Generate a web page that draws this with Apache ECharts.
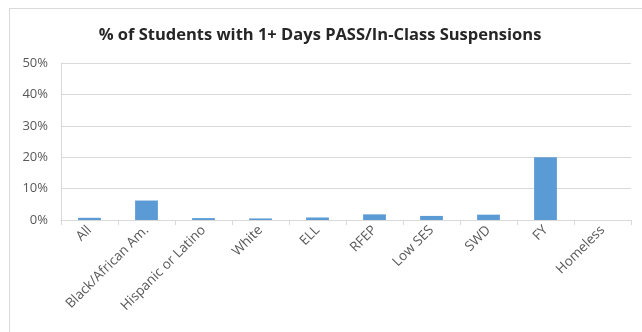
<!DOCTYPE html>
<html><head><meta charset="utf-8">
<script src="https://cdn.jsdelivr.net/npm/echarts@6/dist/echarts.min.js"></script>
<style>html,body{margin:0;padding:0;background:#fff}#c{width:642px;height:332px}
#frame{position:absolute;left:9px;top:8px;width:700px;height:400px;border:1px solid #d9d9d9;box-sizing:border-box;pointer-events:none}</style>
</head><body><div id="c"></div><div id="frame"></div>
<script>
const categories = ["All","Black/African Am.","Hispanic or Latino","White","ELL","RFEP","Low SES","SWD","FY","Homeless"];
const values = [0.7, 6.2, 0.6, 0.5, 0.8, 1.8, 1.3, 1.7, 20, 0];
const yTicks = [0, 10, 20, 30, 40, 50];
const chart = echarts.init(document.getElementById('c'));
chart.setOption({
  animation:false,
  title:{text:'% of Students with 1+ Days PASS/In-Class Suspensions',left:315,top:22,textAlign:'center',
    textStyle:{fontFamily:'Open Sans',fontSize:16.5,fontWeight:'bold',color:'#262626'}},
  grid:{left:61,right:11,top:63,bottom:112},
  xAxis:{type:'category',data:categories,
    axisLine:{lineStyle:{color:'#d9d9d9'}},
    axisTick:{show:true,alignWithLabel:false,lineStyle:{color:'#d9d9d9'},length:5},
    axisLabel:{rotate:45,interval:0,fontFamily:'Open Sans',fontSize:13.5,color:'#595959',margin:8}},
  yAxis:{type:'value',min:yTicks[0],max:yTicks[yTicks.length-1],interval:10,
    axisLine:{show:true,lineStyle:{color:'#d9d9d9'}},
    splitLine:{lineStyle:{color:'#d9d9d9'}},
    axisLabel:{formatter:v=>v+'%',fontFamily:'Open Sans',fontSize:13,color:'#595959',margin:13}},
  series:[{type:'bar',data:values,barWidth:'40%',itemStyle:{color:'#5b9bd5'}}]
});
</script></body></html>
